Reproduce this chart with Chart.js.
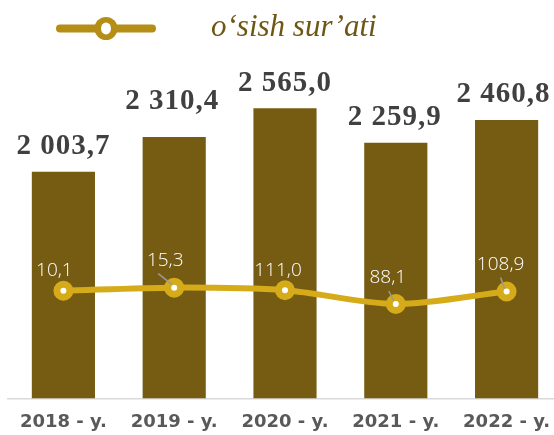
<!DOCTYPE html>
<html>
<head>
<meta charset="utf-8">
<script src="https://cdn.jsdelivr.net/npm/chart.js@4.4.1/dist/chart.umd.min.js"></script>
<style>
  html, body { margin: 0; padding: 0; background: #fff; overflow: hidden; }
  #wrap { position: absolute; left: 0; top: 0; width: 562px; height: 435px; }
</style>
</head>
<body>
<div id="wrap"><canvas id="chart" width="562" height="435"></canvas></div>
<script>
const years = ["2018 - y.", "2019 - y.", "2020 - y.", "2021 - y.", "2022 - y."];
const volume = [2003.7, 2310.4, 2565.0, 2259.9, 2460.8];
const growth = [110.1, 115.3, 111.0, 88.1, 108.9];
const growthLabels = ["10,1", "15,3", "111,0", "88,1", "108,9"];
const legendText = "o‘sish sur’ati";

const barColor = "#755c12";
const lineColor = "#d6ab19";

// 2 003,7 style
const fmt = (v) => {
  const [i, d] = v.toFixed(1).split(".");
  return i.replace(/\B(?=(\d{3})+(?!\d))/g, " ") + "," + d;
};

// nudges so labels sit where the original put them
const barLabelShift = [[0, 0], [-2, -10], [0, 1], [-1, 0], [-3, 0]];
const lineLabelShift = [[-9, -15], [-9, -22], [-7, -14], [-8, -21], [-6, -21]];
const leaders = [null, [-7, 8], null, [1, 8], [0, 7]];

const labelsPlugin = {
  id: "labels",
  afterDatasetsDraw(chart) {
    const ctx = chart.ctx;
    ctx.save();

    // bar values
    const bars = chart.getDatasetMeta(0).data;
    ctx.font = "bold 29px 'Liberation Serif'";
    ctx.letterSpacing = "1px";
    ctx.fillStyle = "#404040";
    ctx.textAlign = "center";
    ctx.textBaseline = "alphabetic";
    bars.forEach((b, i) => {
      const [dx, dy] = barLabelShift[i];
      ctx.fillText(fmt(volume[i]), b.x + dx, b.y - 18 + dy);
    });

    // growth labels
    const pts = chart.getDatasetMeta(1).data;
    ctx.letterSpacing = "0px";
    ctx.font = "300 19px 'Open Sans'";
    pts.forEach((p, i) => {
      const [dx, dy] = lineLabelShift[i];
      const lx = p.x + dx, ly = p.y + dy;
      if (leaders[i]) {
        ctx.strokeStyle = "#9a9a9a";
        ctx.lineWidth = 1.5;
        ctx.beginPath();
        ctx.moveTo(lx + leaders[i][0], ly + leaders[i][1]);
        ctx.lineTo(p.x - 2, p.y - 3);
        ctx.stroke();
      }
      ctx.fillStyle = "#ffffff";
      ctx.fillText(growthLabels[i], lx, ly);
    });

    // legend (line marker + text)
    ctx.strokeStyle = "#b58e16";
    ctx.lineWidth = 8;
    ctx.lineCap = "round";
    ctx.beginPath();
    ctx.moveTo(60, 28.5);
    ctx.lineTo(152, 28.5);
    ctx.stroke();
    ctx.fillStyle = "#b58e16";
    ctx.beginPath();
    ctx.arc(106, 28.5, 11.5, 0, Math.PI * 2);
    ctx.fill();
    ctx.fillStyle = "#ffffff";
    ctx.beginPath();
    ctx.ellipse(106, 28.5, 5, 6, 0, 0, Math.PI * 2);
    ctx.fill();

    ctx.font = "italic 31px 'Liberation Serif'";
    ctx.fillStyle = "#6e5614";
    ctx.textAlign = "left";
    ctx.fillText(legendText, 211, 36);

    ctx.restore();
  },
};

const chart = new Chart(document.getElementById("chart"), {
  type: "bar",
  data: {
    labels: years,
    datasets: [
      {
        type: "bar",
        data: volume,
        backgroundColor: barColor,
        barPercentage: 0.57,
        categoryPercentage: 1,
        yAxisID: "y",
        order: 2,
      },
      {
        type: "line",
        data: growth,
        borderColor: lineColor,
        borderWidth: 6,
        tension: 0.3,
        pointRadius: 6.5,
        pointBorderWidth: 7,
        pointBackgroundColor: "#ffffff",
        pointBorderColor: lineColor,
        yAxisID: "y2",
        order: 1,
      },
    ],
  },
  options: {
    responsive: false,
    devicePixelRatio: 1,
    animation: false,
    layout: { autoPadding: false, padding: { left: 8, right: 0, top: 59, bottom: 0 } },
    plugins: { legend: { display: false }, tooltip: { enabled: false } },
    scales: {
      x: {
        grid: { display: false, drawTicks: false },
        border: { color: "#d9d9d9", width: 1.5 },
        ticks: {
          color: "#595959",
          font: { family: "'DejaVu Sans'", weight: "bold", size: 18 },
          padding: 13,
          maxRotation: 0,
          autoSkip: false,
        },
        afterFit: (s) => {
          s.height = 36.5;
          s.paddingLeft = 0;
          s.paddingRight = 0;
        },
      },
      y: { display: false, min: 0, max: 3000 },
      y2: { display: false, min: -69.3, max: 496 },
    },
  },
  plugins: [labelsPlugin],
});
</script>
</body>
</html>
